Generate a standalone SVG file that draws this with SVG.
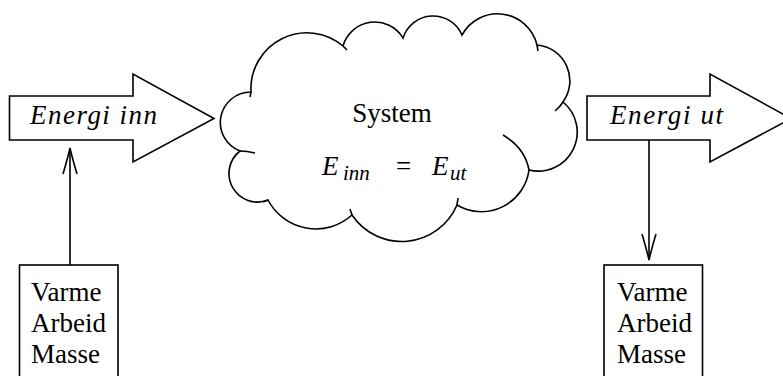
<svg xmlns="http://www.w3.org/2000/svg" width="783" height="376" viewBox="0 0 783 376">
<style>
.ln{fill:none;stroke:#000;stroke-width:1.6;stroke-linejoin:miter;stroke-linecap:butt}
.sh{fill:#fff;stroke:#000;stroke-width:1.6;stroke-linejoin:miter}
text{font-family:'Liberation Serif','DejaVu Serif',serif;fill:#000}
.rm{font-size:27px}
.it{font-style:italic;font-size:27px}
.sub{font-style:italic;font-size:21px}
</style>
<defs>
<marker id="to" viewBox="-27 -8 29 16" refX="0" refY="0" markerWidth="29" markerHeight="16" markerUnits="userSpaceOnUse" orient="auto" overflow="visible">
<path d="M-26,-7 Q-9,-2 0,0 Q-9,2 -26,7" fill="none" stroke="#000" stroke-width="1.6"/>
</marker>
</defs>
<rect width="783" height="376" fill="#fff"/>

<g id="connectors">
<path class="ln" d="M70,265 L70,148" marker-end="url(#to)"/>
<path class="ln" d="M649,140 L649,260" marker-end="url(#to)"/>
</g>

<g id="energi-inn">
<path class="sh" d="M9.5,96 L133,96 L133,74 L214,118.5 L133,162 L133,140 L9.5,140 Z"/>
<text class="it" x="30" y="124" textLength="127" lengthAdjust="spacing">Energi inn</text>
</g>

<g id="energi-ut">
<path class="sh" d="M587,96 L710,96 L710,74 L791,118.5 L710,162 L710,140 L587,140 Z"/>
<text class="it" x="610" y="124" textLength="113" lengthAdjust="spacing">Energi ut</text>
</g>

<g id="system">
<path class="sh" d="M251,92 A56,56 0 0 1 343,46 A33,33 0 0 1 403,38 A31.5,31.5 0 0 1 462,35 A40.5,40.5 0 0 1 537,45 A36,36 0 0 1 563,102 A39,39 0 0 1 529,170 A48,48 0 0 1 457,205 A60,60 0 0 1 352,215 A54,54 0 0 1 268,200 A28.5,28.5 0 0 1 240,151 A30.5,30.5 0 0 1 251,92 Z"/>
<path class="ln" d="M503,135 Q525,148 529,170 M563,102 Q560,107 555,111 M240,151 Q247,151 255,153 M537,45 L538,51 M457,205 L458,198 M251,92 L250,97 M343,46 L347,50 M352,215 L350,209 M268,200 L263,202"/>
<text class="rm" x="392" y="122" text-anchor="middle">System</text>
<text class="it" x="322" y="175">E</text>
<text class="sub" x="343" y="180">inn</text>
<text class="rm" x="403.5" y="175" text-anchor="middle">=</text>
<text class="it" x="432" y="175">E</text>
<text class="sub" x="450" y="180">ut</text>
</g>

<g id="kilde-inn">
<rect class="sh" x="19.5" y="265" width="98.5" height="120"/>
<text class="rm" x="31" y="301">Varme</text>
<text class="rm" x="31" y="332">Arbeid</text>
<text class="rm" x="31" y="363">Masse</text>
</g>

<g id="kilde-ut">
<rect class="sh" x="604" y="265" width="98.5" height="120"/>
<text class="rm" x="617" y="301">Varme</text>
<text class="rm" x="617" y="332">Arbeid</text>
<text class="rm" x="617" y="363">Masse</text>
</g>
</svg>
